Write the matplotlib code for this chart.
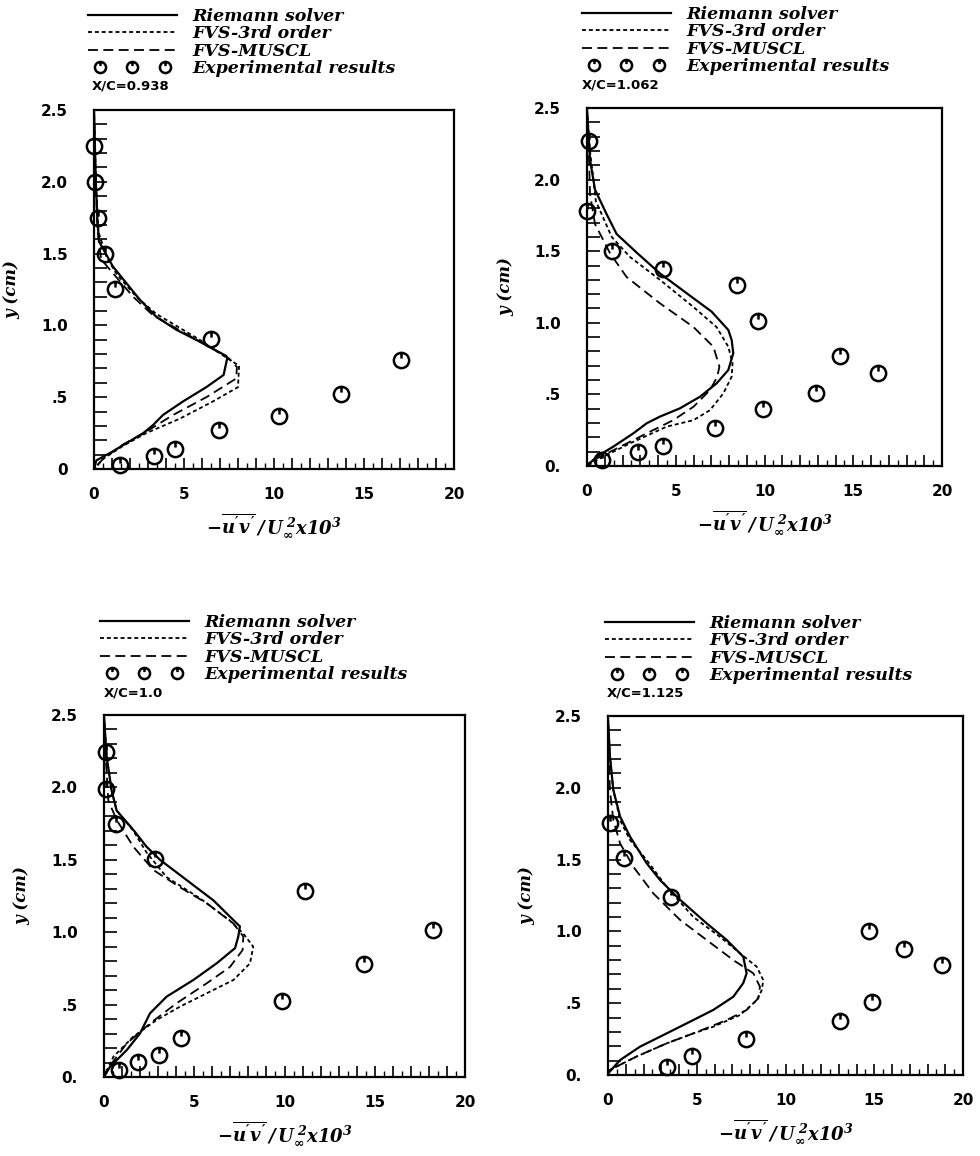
import matplotlib
matplotlib.use("Agg")
import matplotlib.pyplot as plt
from matplotlib.path import Path
from matplotlib.legend_handler import HandlerLine2D
from matplotlib.ticker import MultipleLocator, FuncFormatter

plt.rcParams['mathtext.fontset'] = 'custom'
plt.rcParams['mathtext.rm'] = 'DejaVu Serif:bold:italic'
plt.rcParams['mathtext.it'] = 'DejaVu Serif:bold:italic'
plt.rcParams['mathtext.bf'] = 'DejaVu Serif:bold:italic'

# ---------------- data ----------------
stations = ["X/C=0.938", "X/C=1.062", "X/C=1.0", "X/C=1.125"]
series_names = ["Riemann solver", "FVS-3rd order", "FVS-MUSCL", "Experimental results"]

# Panel 1: X/C = 0.938
p1_riem_x = [0.0, 0.1, 0.2, 0.3, 1.05, 2.54, 3.46, 4.57, 5.87, 7.35, 7.4, 7.2, 6.24, 4.94, 3.83, 3.28, 2.72, 1.8, 0.87, 0.13, 0.0]
p1_riem_y = [2.5, 2.0, 1.7, 1.58, 1.41, 1.18, 1.06, 0.97, 0.887, 0.787, 0.77, 0.655, 0.57, 0.47, 0.376, 0.306, 0.248, 0.18, 0.11, 0.06, 0.0]
p1_3rd_x = [0.0, 0.1, 0.25, 0.69, 1.24, 2.35, 3.46, 5.87, 7.54, 8.06, 8.0, 6.6, 4.76, 2.9, 1.6, 0.5, 0.0]
p1_3rd_y = [2.5, 2.0, 1.65, 1.48, 1.36, 1.2, 1.08, 0.9, 0.76, 0.72, 0.57, 0.47, 0.35, 0.25, 0.16, 0.07, 0.0]
p1_mus_x = [0.0, 0.1, 0.2, 0.4, 0.87, 2.17, 3.28, 6.06, 7.5, 7.94, 7.9, 6.24, 4.39, 2.9, 1.6, 0.5, 0.0]
p1_mus_y = [2.5, 2.0, 1.65, 1.46, 1.39, 1.2, 1.07, 0.875, 0.77, 0.71, 0.63, 0.5, 0.376, 0.26, 0.17, 0.07, 0.0]
p1_exp_x = [0.0, 0.05, 0.2, 0.6, 1.15, 6.48, 17.07, 13.7, 10.28, 6.93, 4.52, 3.31, 1.43]
p1_exp_y = [2.25, 2.0, 1.75, 1.5, 1.25, 0.905, 0.76, 0.52, 0.37, 0.27, 0.14, 0.09, 0.03]

# Panel 2: X/C = 1.062
p2_riem_x = [0.0, 0.17, 0.45, 1.1, 1.67, 2.8, 4.11, 5.62, 7.02, 7.96, 8.15, 8.24, 7.96, 7.3, 6.37, 5.24, 4.11, 3.36, 2.61, 1.48, 0.54, 0.0]
p2_riem_y = [2.49, 2.14, 1.93, 1.76, 1.62, 1.49, 1.345, 1.206, 1.078, 0.95, 0.88, 0.787, 0.67, 0.577, 0.484, 0.403, 0.345, 0.298, 0.228, 0.135, 0.065, 0.0]
p2_3rd_x = [0.0, 0.17, 0.5, 1.39, 2.42, 4.11, 6.0, 7.3, 7.96, 8.2, 8.15, 7.68, 6.93, 6.0, 4.49, 2.42, 0.54, 0.0]
p2_3rd_y = [2.49, 2.2, 1.85, 1.6, 1.46, 1.3, 1.11, 0.97, 0.833, 0.717, 0.624, 0.507, 0.39, 0.32, 0.275, 0.158, 0.04, 0.0]
p2_mus_x = [0.0, 0.1, 0.17, 0.45, 1.3, 2.23, 4.11, 6.0, 7.12, 7.46, 7.34, 6.93, 6.0, 4.86, 3.36, 1.48, 0.17, 0.0]
p2_mus_y = [2.49, 2.2, 1.9, 1.69, 1.485, 1.32, 1.136, 0.97, 0.833, 0.694, 0.624, 0.53, 0.414, 0.32, 0.228, 0.11, 0.03, 0.0]
p2_exp_x = [0.1, 0.0, 1.39, 4.26, 8.43, 9.65, 14.25, 16.4, 12.9, 9.9, 7.21, 4.3, 2.89, 0.83]
p2_exp_y = [2.27, 1.78, 1.5, 1.376, 1.264, 1.015, 0.768, 0.647, 0.507, 0.396, 0.263, 0.142, 0.095, 0.04]

# Panel 3: X/C = 1.0
p3_riem_x = [0.0, 0.15, 0.42, 0.7, 1.63, 2.36, 3.1, 4.58, 6.06, 6.98, 7.53, 7.44, 7.26, 6.24, 4.95, 3.47, 2.55, 1.99, 1.26, 0.33, 0.0]
p3_riem_y = [2.49, 2.21, 1.98, 1.84, 1.706, 1.59, 1.5, 1.36, 1.22, 1.107, 1.04, 0.97, 0.89, 0.785, 0.67, 0.555, 0.44, 0.3, 0.186, 0.07, 0.0]
p3_3rd_x = [0.0, 0.15, 0.42, 0.7, 1.63, 2.36, 3.47, 5.32, 6.98, 7.72, 8.27, 8.09, 7.17, 5.69, 4.21, 2.92, 1.63, 0.52, 0.0]
p3_3rd_y = [2.49, 2.21, 1.98, 1.84, 1.7, 1.55, 1.38, 1.234, 1.08, 0.99, 0.9, 0.785, 0.67, 0.578, 0.486, 0.394, 0.28, 0.14, 0.0]
p3_mus_x = [0.0, 0.1, 0.24, 0.7, 1.63, 2.73, 4.21, 5.69, 7.17, 7.72, 7.68, 6.98, 5.69, 4.03, 2.55, 1.26, 0.15, 0.0]
p3_mus_y = [2.49, 2.2, 1.91, 1.775, 1.59, 1.43, 1.31, 1.2, 1.06, 0.97, 0.877, 0.76, 0.647, 0.51, 0.37, 0.232, 0.048, 0.0]
p3_exp_x = [0.11, 0.11, 0.66, 2.83, 11.14, 18.25, 14.4, 9.84, 4.27, 3.07, 1.9, 0.85]
p3_exp_y = [2.247, 1.987, 1.75, 1.503, 1.285, 1.015, 0.778, 0.525, 0.267, 0.152, 0.106, 0.048]

# Panel 4: X/C = 1.125
p4_riem_x = [0.0, 0.11, 0.3, 0.68, 1.24, 2.18, 2.93, 4.06, 5.56, 6.69, 7.62, 7.81, 7.62, 7.06, 5.93, 4.81, 3.31, 1.8, 0.68, 0.0]
p4_riem_y = [2.48, 2.217, 1.985, 1.8, 1.66, 1.474, 1.358, 1.22, 1.056, 0.94, 0.824, 0.708, 0.64, 0.545, 0.453, 0.383, 0.29, 0.197, 0.104, 0.01]
p4_3rd_x = [0.0, 0.11, 0.3, 0.68, 1.24, 2.18, 3.3, 4.81, 6.3, 7.44, 8.38, 8.75, 8.66, 8.38, 7.44, 5.93, 4.81, 3.3, 1.6, 0.1, 0.0]
p4_3rd_y = [2.48, 2.217, 1.985, 1.776, 1.636, 1.497, 1.31, 1.1, 0.963, 0.847, 0.754, 0.66, 0.59, 0.52, 0.418, 0.336, 0.29, 0.22, 0.128, 0.035, 0.01]
p4_mus_x = [0.0, 0.05, 0.11, 0.3, 0.68, 1.43, 2.55, 4.06, 5.56, 7.06, 8.19, 8.56, 8.47, 7.81, 6.69, 5.75, 4.81, 3.3, 1.6, 0.1, 0.0]
p4_mus_y = [2.48, 2.217, 1.98, 1.776, 1.613, 1.45, 1.265, 1.08, 0.94, 0.8, 0.708, 0.615, 0.534, 0.453, 0.383, 0.336, 0.29, 0.22, 0.128, 0.035, 0.01]
p4_exp_x = [0.11, 0.92, 3.55, 14.72, 16.7, 18.8, 14.9, 13.07, 7.76, 4.75, 3.3]
p4_exp_y = [1.757, 1.509, 1.242, 1.005, 0.877, 0.764, 0.51, 0.378, 0.25, 0.132, 0.058]

x_ticks = [0, 5, 10, 15, 20]
y_ticks = [0.0, 0.5, 1.0, 1.5, 2.0, 2.5]
y_ticklabels_first = ["0", ".5", "1.0", "1.5", "2.0", "2.5"]
y_ticklabels_other = ["0.", ".5", "1.0", "1.5", "2.0", "2.5"]

panels = [
    (p1_riem_x, p1_riem_y, p1_3rd_x, p1_3rd_y, p1_mus_x, p1_mus_y, p1_exp_x, p1_exp_y, stations[0], y_ticklabels_first),
    (p2_riem_x, p2_riem_y, p2_3rd_x, p2_3rd_y, p2_mus_x, p2_mus_y, p2_exp_x, p2_exp_y, stations[1], y_ticklabels_other),
    (p3_riem_x, p3_riem_y, p3_3rd_x, p3_3rd_y, p3_mus_x, p3_mus_y, p3_exp_x, p3_exp_y, stations[2], y_ticklabels_other),
    (p4_riem_x, p4_riem_y, p4_3rd_x, p4_3rd_y, p4_mus_x, p4_mus_y, p4_exp_x, p4_exp_y, stations[3], y_ticklabels_other),
]

# ---------------- layout (pixels) ----------------
W, H = 980, 1156
axes_px = [(94, 110, 454, 469), (587, 108, 942, 466), (104, 715, 465, 1077), (608, 716, 963, 1075)]
legend_px = [(83, 8), (577, 6), (95, 614), (600, 615)]
station_px = [(92, 86), (582, 85), (104, 693), (607, 693)]

# custom marker: circle with a short tick from the top toward the centre
circ = Path.unit_circle()
tick = Path([[0, 1.0], [0, 0.25]], [Path.MOVETO, Path.LINETO])
exp_marker = Path.make_compound_path(circ, tick)

fig = plt.figure(figsize=(W / 100, H / 100), dpi=100)
fig.patch.set_facecolor('white')

serif_bi = dict(family='DejaVu Serif', weight='bold', style='italic')

for i, (rx, ry, tx, ty, mx, my, ex, ey, st, ylabs) in enumerate(panels):
    l, t, r, b = axes_px[i]
    ax = fig.add_axes([l / W, 1 - b / H, (r - l) / W, (b - t) / H])
    h1, = ax.plot(rx, ry, color='black', lw=1.6, ls='-')
    h2, = ax.plot(tx, ty, color='black', lw=1.3, ls=(0, (2.2, 1.6)))
    h3, = ax.plot(mx, my, color='black', lw=1.3, ls=(0, (5.5, 3)))
    h4, = ax.plot(ex, ey, ls='none', marker=exp_marker, ms=11, mfc='none', mec='black', mew=1.8,
                  clip_on=False)
    ax.set_xlim(0, 20)
    ax.set_ylim(0, 2.5)
    for s in ax.spines.values():
        s.set_linewidth(1.6)
    ax.xaxis.set_major_locator(MultipleLocator(1))
    ax.xaxis.set_minor_locator(MultipleLocator(0.5))
    ax.xaxis.set_major_formatter(FuncFormatter(lambda v, p: f"{int(round(v))}" if abs(v / 5 - round(v / 5)) < 1e-6 else ""))
    ax.yaxis.set_major_locator(MultipleLocator(0.1))
    labmap = {round(v, 2): lab for v, lab in zip(y_ticks, ylabs)}
    ax.yaxis.set_major_formatter(FuncFormatter(lambda v, p, m=labmap: m.get(round(v, 2), "") if abs(v * 2 - round(v * 2)) < 1e-6 else ""))
    ax.tick_params(axis='x', which='major', direction='in', length=8, width=1.2, pad=13,
                   labelsize=11, top=False)
    ax.tick_params(axis='x', which='minor', direction='in', length=4, width=1.0, top=False)
    ax.tick_params(axis='y', which='both', direction='in', length=9, width=1.2, pad=19,
                   labelsize=11, right=False)
    for lab in ax.get_xticklabels() + ax.get_yticklabels():
        lab.set_fontweight('bold')
        lab.set_family('DejaVu Sans')
    ax.set_ylabel("y (cm)", fontsize=12, **serif_bi)
    ax.yaxis.set_label_coords(-0.205, 0.5)
    ax.set_xlabel(r"$-\overline{u'v'}\,/\,U_{\infty}^{\,2}x10^{3}$", fontsize=13, labelpad=7)

    lx, ly = legend_px[i]
    leg = fig.legend([h1, h2, h3, h4], series_names, loc='upper left',
                     bbox_to_anchor=(lx / W, 1 - ly / H), bbox_transform=fig.transFigure,
                     frameon=False, borderpad=0, borderaxespad=0, handlelength=5.7,
                     handletextpad=0.6, labelspacing=0.02, numpoints=3,
                     handler_map={h4: HandlerLine2D(marker_pad=1.0, numpoints=3)},
                     prop=dict(family='DejaVu Serif', weight='bold', style='italic', size=12.5))
    for lh in leg.legend_handles[3:]:
        lh.set_markersize(8)
    sx, sy = station_px[i]
    fig.text(sx / W, 1 - sy / H, st, ha='left', va='center', fontsize=9.5,
             fontweight='bold', family='DejaVu Sans')

fig.savefig("out.png", dpi=100, facecolor='white')
